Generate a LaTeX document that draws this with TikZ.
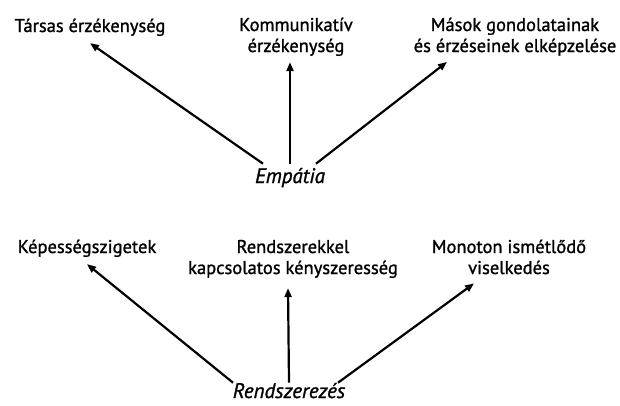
\documentclass[tikz,border=0pt]{standalone}
\usepackage{fontspec}
\setmainfont{PT Sans}[FakeBold=1.2]
\usetikzlibrary{arrows.meta}

\tikzset{
  cimke/.style={align=center, inner sep=0pt, anchor=base, font=\fontsize{18.5}{21}\selectfont},
  gyoker/.style={inner sep=0pt, anchor=base, font=\fontsize{21}{24}\selectfont\itshape},
  nyil/.style={-{Triangle[length=9pt,width=7pt]}, line width=2.2pt}
}

\begin{document}
\begin{tikzpicture}[x=1pt, y=-1pt]
    \useasboundingbox (0,0) rectangle (620,405);

    % Empatia es agai
    \node[gyoker] (emp) at (290,183) {Empátia};
    \node[cimke] (tarsas) at (90,32) {Társas érzékenység};
    \node[cimke] (komm) at (296,52) {Kommunikatív\\érzékenység};
    \node[cimke] (masok) at (515,52) {Mások gondolatainak\\és érzéseinek elképzelése};

    \draw[nyil] ([xshift=-27pt,yshift=4pt]emp.north) -- ([yshift=-7pt]tarsas.south);
    \draw[nyil] ([yshift=4pt]emp.north) -- ([xshift=-6pt,yshift=-6pt]komm.south);
    \draw[nyil] ([xshift=26pt,yshift=4pt]emp.north) -- ([xshift=-68pt,yshift=-6pt]masok.south);

    % Rendszerezes es agai
    \node[gyoker] (rendszer) at (289,398) {Rendszerezés};
    \node[cimke] (kepes) at (87,253) {Képességszigetek};
    \node[cimke] (kenyszer) at (293,274) {Rendszerekkel\\kapcsolatos kényszeresség};
    \node[cimke] (monoton) at (509,274) {Monoton ismétlődő\\viselkedés};

    \draw[nyil] ([xshift=-56pt]rendszer.north) -- ([yshift=-7pt]kepes.south);
    \draw[nyil] (rendszer.north) -- ([xshift=-5pt,yshift=-10pt]kenyszer.south);
    \draw[nyil] ([xshift=49pt]rendszer.north) -- ([xshift=-35pt,yshift=-9pt]monoton.south);

\end{tikzpicture}
\end{document}
